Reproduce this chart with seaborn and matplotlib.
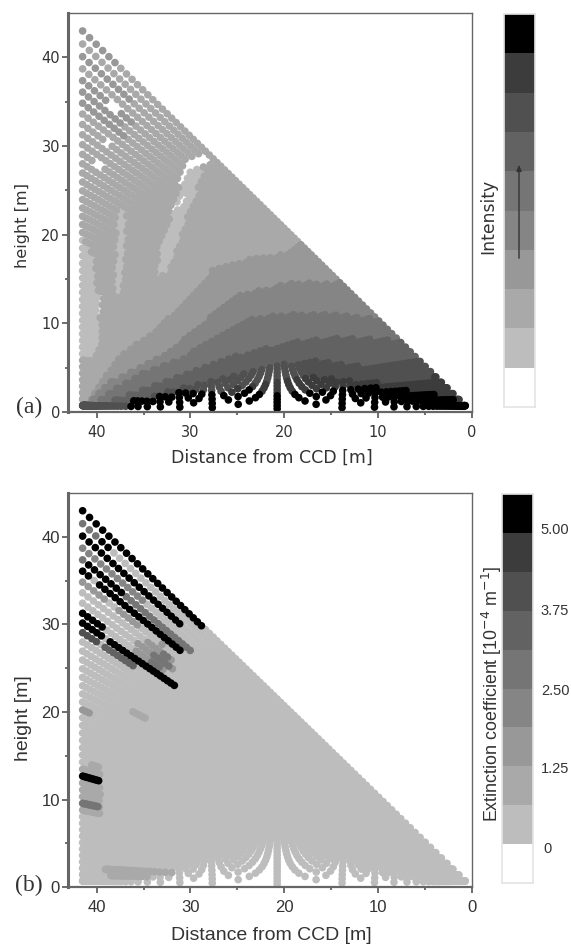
# bistatic_maps.py
import numpy as np
import pandas as pd
import matplotlib
matplotlib.use('Agg')
import matplotlib.pyplot as plt
import seaborn as sns
from matplotlib.colors import ListedColormap
from matplotlib.path import Path
from matplotlib.text import Annotation

FIG_W, FIG_H = 571, 944
BASELINE = 41.5

# viewing rays of the CCD and of the laser, degrees
CCD_ANGLES = [1, 2, 3, 4, 5, 6, 7, 8, 9, 10, 11, 12, 13, 14, 15, 16, 17, 18, 19, 20, 21, 22, 23,
              24, 25, 26, 27, 28, 29, 30, 31, 32, 33, 34, 35, 36, 37, 38, 39, 40, 41, 42, 43, 44, 45, 46]
LASER_ANGLES = [1, 2, 3, 4, 5, 6, 7, 8, 9, 10, 11, 12, 13, 14, 15, 16, 17, 18, 19, 20, 21, 22, 23,
                24, 25, 26, 27, 28, 29, 30, 31, 32, 33, 34, 35, 36, 37, 38, 39, 40, 41, 42, 43, 44, 45,
                46, 47, 48, 49, 50, 51, 52, 53, 54, 55, 56, 57, 58, 59, 60, 61, 62, 63, 64, 65, 66, 67,
                68, 69, 70, 71, 72, 73, 74, 75, 76, 77, 78, 79, 80, 81, 82, 83, 84, 85, 86, 87, 88, 89, 90]

# grey levels of the colour bar, bottom to top
LEVEL_COLORS = ['#ffffff', '#bdbdbd', '#a9a9a9', '#989898', '#858585',
                '#757575', '#626262', '#505050', '#3c3c3c', '#000000']
EXT_TICKS = ['0', '1.25', '2.50', '3.75', '5.00']

# (a) contours: (level, distance, height)
A_BANDS = [
    (3, [40.6, 39.6, 37.2, 33.6, 30.4, 27.6, 23.6, 19.4, 18.1, 15], [1.35, 3.2, 6.6, 9.2, 12.6, 16, 17.3, 17.9, 19, 20]),
    (4, [40.4, 38.6, 35.4, 32.5, 29, 25.4, 19.4, 14, 11], [1.4, 3.3, 5, 6.6, 9.6, 13, 14.5, 14.6, 16]),
    (5, [40, 38.2, 35, 31.1, 27.2, 23.6, 19.4, 14, 9.8, 7], [1, 2.5, 4.4, 5.9, 8.5, 10.6, 11, 11, 10.4, 12]),
    (6, [38.9, 36.1, 32.5, 28.2, 23.6, 19.4, 14, 7.6, 5], [1, 2.1, 3.6, 5.3, 6.8, 7.8, 8.4, 8.1, 10]),
    (7, [37.2, 34.3, 29, 21.8, 17, 12, 5.2, 3], [1, 1.7, 3.3, 5, 6, 5.2, 6.2, 8]),
    (8, [33.5, 33, 28, 22, 18, 13, 8, 3.7, 2], [0, 0.9, 2, 3.3, 4, 3.6, 3.2, 4, 6]),
    (9, [36.8, 36.5, 31, 27, 24, 21, 17, 13.5, 10, 7.6, 4.4, 2, 0.5],
     [0, 1.2, 2.3, 1.9, 2.6, 2, 2.4, 2.9, 2.8, 2.5, 2.1, 1.4, 1.1]),
]
# (a) pale streaks: (distance, height)
A_PALE = [
    ([29.5, 28.6, 30, 32.4, 33.8, 33.2, 31.8, 30.5], [29, 27, 23, 15.5, 15.5, 19, 23, 27]),
    ([37, 36.8, 37.4, 38.2, 38, 37.8], [23, 18, 13, 13, 18, 23]),
    ([41.6, 40.2, 39.4, 40.2, 41.6], [20, 17, 8, 6, 6]),
]
# (a) holes in the data
A_HOLES = [
    ([38.7, 37.7, 37.9, 38.8], [35.2, 34.8, 33.7, 33.9]),
    ([39.3, 38.3, 38.4, 39.3], [31, 30.8, 29.7, 29.8]),
    ([40.3, 39.3, 39.4, 40.3], [28.5, 28.3, 27.2, 27.3]),
    ([30.6, 28.2, 28.2, 30.2, 31.3, 31.4, 30.7, 30.5], [28.2, 29.4, 28.2, 27, 25.3, 26.6, 26.8, 27.6]),
    ([30.5, 31.8, 31.7, 30.8], [24.8, 23, 22.6, 23.4]),
    ([39.9, 39.3, 39.5, 40.1], [13, 13, 10.8, 10.8]),
]
# (a) darker rays in the top corner: ray, far end, near end, level
A_RAYS = [46, 44, 42, 41, 40]
A_RAY_FAR = [42, 42, 42, 42, 42]
A_RAY_NEAR = [38, 36, 36, 37, 37]
A_RAY_LEVEL = [3, 3, 3, 3, 3]

# (b) patches, (level, distance, height)
B_PATCHES = [
    (2, [39.3, 31.7, 35.5, 38.5], [2.3, 1.7, 0.9, 1.3]),
    (2, [36.6, 35, 34.6, 36.2], [20.4, 18.9, 19.2, 20.6]),
    (3, [41.7, 40.6, 40.8, 41.7], [20.5, 20.3, 19.4, 19.4]),
    (2, [41.7, 39.6, 39.6, 41.7], [14, 14, 8.3, 8.3]),
    (3, [36.6, 33, 31.5, 33, 36], [28, 28, 25, 24.5, 27]),
    (5, [34.5, 32.5, 32, 34], [26.5, 27, 24.8, 25]),
    (3, [38, 33, 31, 35, 38], [33, 29.5, 27.5, 29.5, 31]),
]
# (b) dark rays: ray, far end, near end, level
B_RAYS = [46, 45, 45, 44, 43, 42, 42, 41, 41, 40, 37, 36, 36, 35, 35, 17, 13]
B_RAY_FAR = [42, 42, 39.6, 42, 42, 42, 41, 42, 39.8, 42, 42, 42, 38.7, 42, 39.3, 42, 42]
B_RAY_NEAR = [28.5, 40, 38.5, 30.8, 35, 30, 37, 40.5, 31, 39, 39, 39.3, 31.5, 40, 36, 39.6, 39.8]
B_RAY_LEVEL = [9, 5, 9, 9, 4, 5, 9, 9, 9, 3, 9, 9, 9, 7, 6, 9, 5]


def lattice():
    beta, alpha = np.meshgrid(np.radians(CCD_ANGLES), np.radians(LASER_ANGLES), indexing='ij')
    dist = BASELINE * np.tan(alpha) / (np.tan(alpha) + np.tan(beta))
    return pd.DataFrame({
        'distance': dist.ravel(),
        'height': (dist * np.tan(beta)).ravel(),
        'ray': np.repeat(CCD_ANGLES, len(LASER_ANGLES)),
    })


def inside(df, xs, ys, closed_below=False):
    verts = list(zip(xs, ys))
    if closed_below:
        verts = [(50, -1), (50, ys[0])] + verts + [(-5, ys[-1]), (-5, -1)]
    return Path(verts).contains_points(df[['distance', 'height']].values)


def on_ray(df, ray, far, near):
    return (df['ray'] == ray) & (df['distance'] <= far) & (df['distance'] >= near)


def axes_px(fig, left, top, right, bottom):
    return fig.add_axes([left / FIG_W, 1 - bottom / FIG_H, (right - left) / FIG_W, (bottom - top) / FIG_H])


def draw_map(fig, df, rect, font):
    ax = axes_px(fig, *rect)
    df = df.sort_values('level', kind='stable')
    sns.scatterplot(data=df, x='distance', y='height', hue='level', palette=dict(enumerate(LEVEL_COLORS)),
                    s=30, linewidth=0, legend=False, ax=ax)
    ax.set_xlim(43.06, 0)
    ax.set_ylim(0, 45)
    ax.set_xticks([40, 30, 20, 10, 0])
    ax.set_xticks([35, 25, 15, 5], minor=True)
    ax.set_yticks([0, 10, 20, 30, 40])
    ax.set_yticks([5, 15, 25, 35], minor=True)
    ax.set_xlabel('')
    ax.set_ylabel('')
    ax.tick_params(which='major', bottom=True, left=True, length=4.3, width=1.2, color='#555555',
                   labelsize=font[1], labelcolor='#333333')
    ax.tick_params(which='minor', bottom=True, left=True, length=2.2, width=1.2, color='#555555')
    ax.tick_params(axis='x', which='major', pad=5)
    ax.tick_params(axis='y', which='major', pad=1.5)
    for label in ax.get_xticklabels() + ax.get_yticklabels():
        label.set_family(font[0])
    for side, lw in {'left': 2.2, 'bottom': 1.6, 'top': 1.0, 'right': 1.0}.items():
        ax.spines[side].set_linewidth(lw)
        ax.spines[side].set_color('#666666')
    return ax


def draw_bar(fig, rect):
    cax = axes_px(fig, *rect)
    bar = np.arange(len(LEVEL_COLORS))[::-1].reshape(-1, 1)
    sns.heatmap(bar, cmap=ListedColormap(LEVEL_COLORS), cbar=False, xticklabels=False, yticklabels=False, ax=cax)
    for spine in cax.spines.values():
        spine.set_visible(True)
        spine.set_color('#e4e4e4')
        spine.set_linewidth(1.2)
    return cax


def put(fig, x, y, text, **kwargs):
    fig.text(x / FIG_W, 1 - y / FIG_H, text, ha='center', va='center', color='#333333', **kwargs)


def main():
    sns.set_style('white')
    fig = plt.figure(figsize=(FIG_W / 100, FIG_H / 100), dpi=100)

    # painel (a)
    a = lattice()
    a['level'] = 2
    for ray, far, near, level in zip(A_RAYS, A_RAY_FAR, A_RAY_NEAR, A_RAY_LEVEL):
        a.loc[on_ray(a, ray, far, near), 'level'] = level
    for xs, ys in A_PALE:
        a.loc[inside(a, xs, ys), 'level'] = 1
    for level, xs, ys in A_BANDS:
        a.loc[inside(a, xs, ys, closed_below=True), 'level'] = level
    for xs, ys in A_HOLES:
        a = a[~inside(a, xs, ys)]
    draw_map(fig, a, (68, 13, 471.7, 412), ('DejaVu Sans', 10.5))
    draw_bar(fig, (503.7, 14, 535, 407))
    put(fig, 272, 458, 'Distance from CCD [m]', family='DejaVu Sans', fontsize=12.5)
    put(fig, 23, 226, 'height [m]', family='DejaVu Sans', fontsize=11.6, rotation=90)
    put(fig, 488, 216, 'Intensity', family='DejaVu Sans', fontsize=12.4, rotation=90)
    put(fig, 29, 407, '(a)', family='Liberation Serif', fontsize=17)
    fig.add_artist(Annotation('', xy=(519 / FIG_W, 1 - 162 / FIG_H), xytext=(519 / FIG_W, 1 - 261 / FIG_H),
                              xycoords='figure fraction', textcoords='figure fraction',
                              arrowprops=dict(arrowstyle='-|>,head_width=0.15,head_length=0.35', color='#333333', lw=1)))

    # painel (b)
    b = lattice()
    b['level'] = 1
    for level, xs, ys in B_PATCHES:
        b.loc[inside(b, xs, ys), 'level'] = level
    for ray, far, near, level in zip(B_RAYS, B_RAY_FAR, B_RAY_NEAR, B_RAY_LEVEL):
        b.loc[on_ray(b, ray, far, near), 'level'] = level
    draw_map(fig, b, (68, 493, 471.7, 887.3), ('Liberation Sans', 12))
    draw_bar(fig, (502, 494, 532.7, 883))
    put(fig, 271, 935, 'Distance from CCD [m]', family='Liberation Sans', fontsize=14)
    put(fig, 23, 718, 'height [m]', family='Liberation Sans', fontsize=14, rotation=90)
    put(fig, 492, 694, r'Extinction coefficient [10$^{-4}$ m$^{-1}$]', family='Liberation Sans', fontsize=12.9, rotation=90)
    put(fig, 29, 885, '(b)', family='Liberation Serif', fontsize=17)
    for text, y in zip(EXT_TICKS, [849, 769, 690.7, 610.7, 530]):
        x = 548 if text == '0' else 555
        put(fig, x, y, text, family='Liberation Sans', fontsize=10.5)

    fig.savefig('out.png', dpi=100)


if __name__ == '__main__':
    main()
